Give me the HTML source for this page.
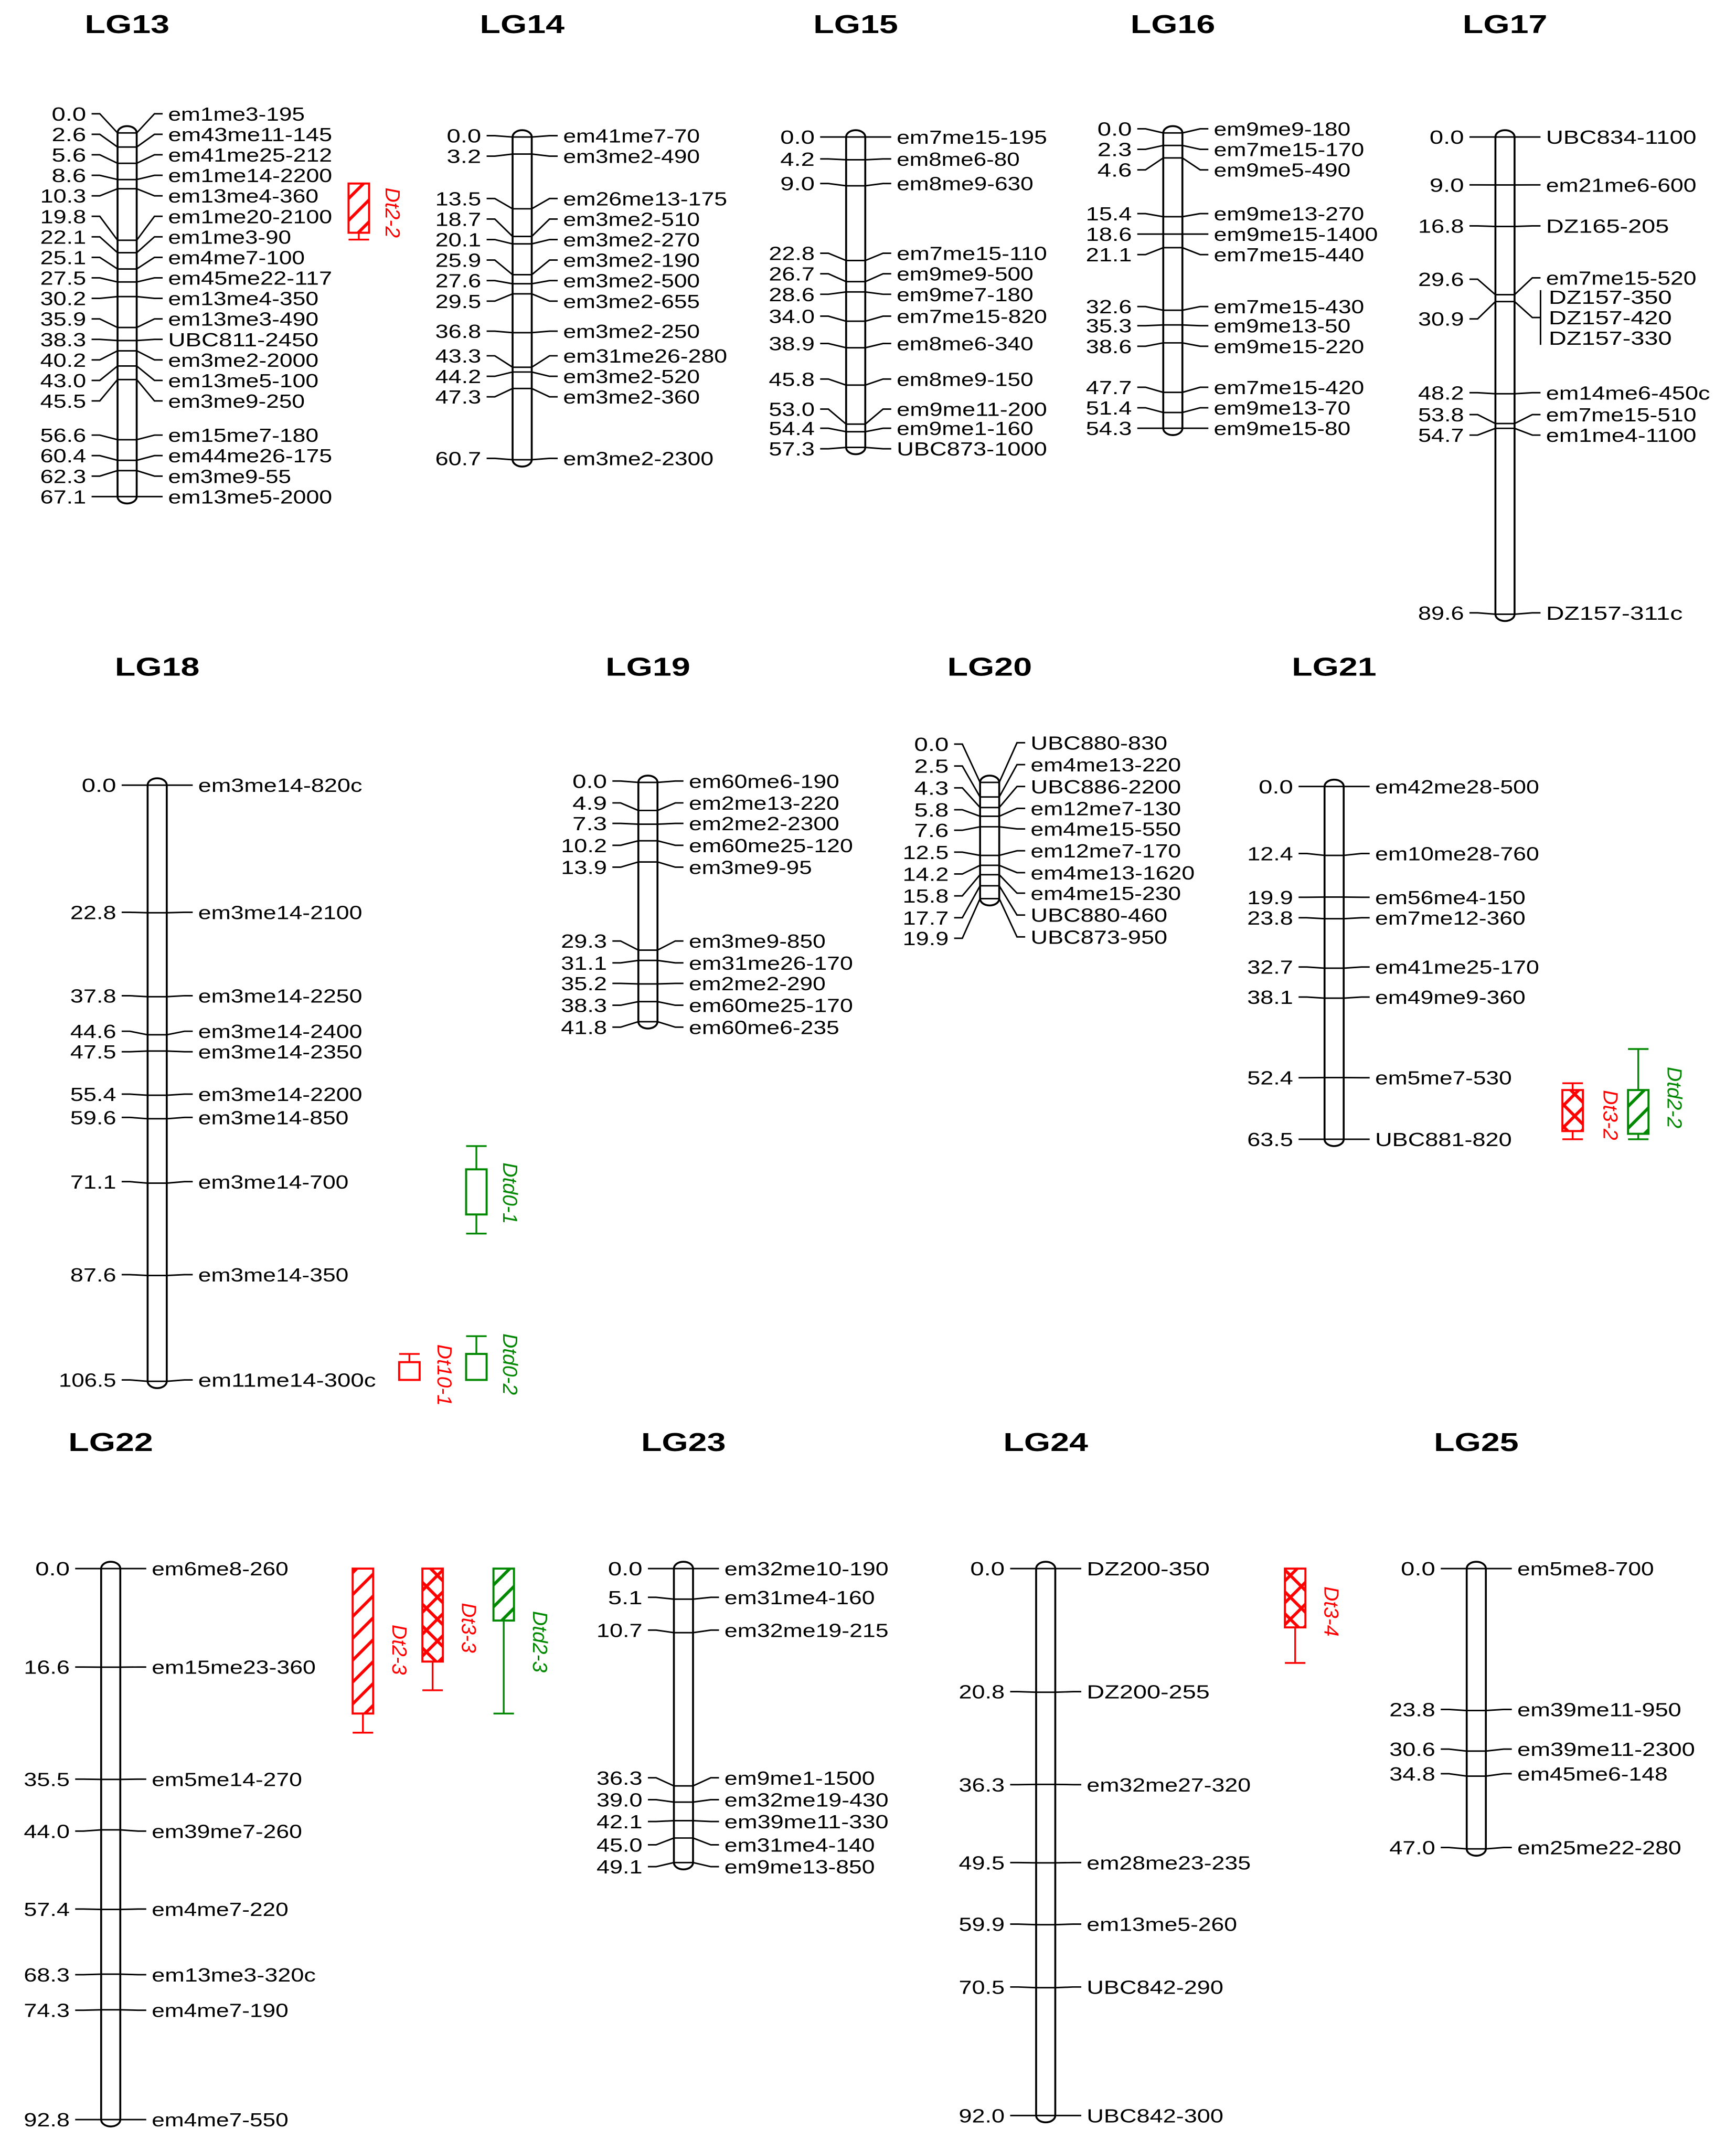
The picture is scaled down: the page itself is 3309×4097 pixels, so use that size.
<!DOCTYPE html>
<html><head><meta charset="utf-8">
<style>html,body{margin:0;padding:0;background:#fff}svg{display:block}</style>
</head><body>
<svg id="s" xmlns="http://www.w3.org/2000/svg" width="3309" height="4097" viewBox="0 0 1270 1572">
<defs>
<pattern id="hr" patternUnits="userSpaceOnUse" width="16" height="16"><path d="M-4,20 L20,-4 M-4,4 L4,-4 M12,20 L20,12" stroke="#f00" stroke-width="2.2"/></pattern>
<pattern id="hg" patternUnits="userSpaceOnUse" width="16" height="16"><path d="M-4,20 L20,-4 M-4,4 L4,-4 M12,20 L20,12" stroke="#080" stroke-width="2.2"/></pattern>
<pattern id="xr" patternUnits="userSpaceOnUse" width="16" height="16"><path d="M0,0 L16,16 M16,0 L0,16" stroke="#f00" stroke-width="2.2"/></pattern>
</defs>
<g id="g" font-family="'Liberation Sans', Arial, sans-serif" font-size="14" fill="#000"></g>
</svg>
<script>
var NS="http://www.w3.org/2000/svg",G=document.getElementById('g');
function el(t,a,txt){var e=document.createElementNS(NS,t);for(var k in a)e.setAttribute(k,a[k]);if(txt!=null)e.textContent=txt;G.appendChild(e);return e;}
function line(x1,y1,x2,y2,c,w){el('path',{d:'M'+x1+','+y1+' L'+x2+','+y2,stroke:c||'#000','stroke-width':w||1.1,fill:'none'});}
function pl(pts,c,w){el('polyline',{points:pts.map(function(p){return p.join(',')}).join(' '),stroke:c||'#000','stroke-width':w||1.1,fill:'none'});}
function chrom(o){
 var cx=o.cx,hw=7,top=o.top,bot=o.bot,max=o.max,sc=(bot-top)/max;
 el('text',{x:cx,y:o.ty||(top<200?24:(top<700?494:1061)),'text-anchor':'middle','font-weight':'bold','font-size':19,textLength:62,lengthAdjust:'spacingAndGlyphs'},o.title);
 el('rect',{x:cx-hw,y:top-5,width:2*hw,height:bot-top+10,rx:7,ry:5,fill:'#fff',stroke:'#000','stroke-width':1.4});
 o.m.forEach(function(m){
  var cy=top+m[0]*sc, ly=m[2], ry=(m[3]!=null?m[3]:ly);
  line(cx-hw,cy,cx+hw,cy);
  var L=cx-hw,R=cx+hw;
  pl([[L-19,ly],[L-13,ly],[L,cy]]);
  if(!m[4]) pl([[R,cy],[R+13,ry],[R+19,ry]]);
  var ns=m[0].toFixed(1);
  el('text',{x:L-23,y:ly+5,'text-anchor':'end',textLength:ns.length*8.4,lengthAdjust:'spacingAndGlyphs'},ns);
  if(m[1]) el('text',{x:R+23,y:ry+5,textLength:m[1].length*10,lengthAdjust:'spacingAndGlyphs'},m[1]);
 });
}
function qtl(o){
 var c=o.c,x=o.x,w=15;
 if(o.wt!=null){line(x+w/2,o.wt,x+w/2,o.y1,c,1.3);line(x,o.wt,x+w,o.wt,c,1.3);}
 if(o.wb!=null){line(x+w/2,o.y2,x+w/2,o.wb,c,1.3);line(x,o.wb,x+w,o.wb,c,1.3);}
 el('rect',{x:x,y:o.y1,width:w,height:o.y2-o.y1,fill:o.f||'#fff',stroke:c,'stroke-width':1.5});
 el('text',{x:0,y:0,fill:c,'font-style':'italic','font-size':15,transform:'translate('+(o.lx)+','+o.ly+') rotate(90)'},o.t);
}
chrom({title:'LG13',cx:93,top:97,bot:363,max:67.1,m:[
[0,'em1me3-195',83],[2.6,'em43me11-145',98],[5.6,'em41me25-212',113],[8.6,'em1me14-2200',128],[10.3,'em13me4-360',143],
[19.8,'em1me20-2100',158],[22.1,'em1me3-90',173],[25.1,'em4me7-100',188],[27.5,'em45me22-117',203],[30.2,'em13me4-350',218],
[35.9,'em13me3-490',233],[38.3,'UBC811-2450',248],[40.2,'em3me2-2000',263],[43.0,'em13me5-100',278],[45.5,'em3me9-250',293],
[56.6,'em15me7-180',318],[60.4,'em44me26-175',333],[62.3,'em3me9-55',348],[67.1,'em13me5-2000',363]]});
chrom({title:'LG14',cx:382,top:100,bot:336,max:60.7,m:[
[0,'em41me7-70',99],[3.2,'em3me2-490',114],[13.5,'em26me13-175',145],[18.7,'em3me2-510',160],[20.1,'em3me2-270',175],
[25.9,'em3me2-190',190],[27.6,'em3me2-500',205],[29.5,'em3me2-655',220],[36.8,'em3me2-250',242],[43.3,'em31me26-280',260],
[44.2,'em3me2-520',275],[47.3,'em3me2-360',290],[60.7,'em3me2-2300',335]]});
chrom({title:'LG15',cx:626,top:100,bot:327,max:57.3,m:[
[0,'em7me15-195',100],[4.2,'em8me6-80',116],[9.0,'em8me9-630',134],[22.8,'em7me15-110',185],[26.7,'em9me9-500',200],
[28.6,'em9me7-180',215],[34.0,'em7me15-820',231],[38.9,'em8me6-340',251],[45.8,'em8me9-150',277],[53.0,'em9me11-200',299],
[54.4,'em9me1-160',313],[57.3,'UBC873-1000',328]]});
chrom({title:'LG16',cx:858,top:97,bot:313,max:54.3,m:[
[0,'em9me9-180',94],[2.3,'em7me15-170',109],[4.6,'em9me5-490',124],[15.4,'em9me13-270',156],[18.6,'em9me15-1400',171],
[21.1,'em7me15-440',186],[32.6,'em7me15-430',224],[35.3,'em9me13-50',238],[38.6,'em9me15-220',253],[47.7,'em7me15-420',283],
[51.4,'em9me13-70',298],[54.3,'em9me15-80',313]]});
chrom({title:'LG17',cx:1101,top:100,bot:449,max:89.6,m:[
[0,'UBC834-1100',100],[9.0,'em21me6-600',135],[16.8,'DZ165-205',165],[29.6,'em7me15-520',204,203],[30.9,null,233,null,1],
[48.2,'em14me6-450c',287],[53.8,'em7me15-510',303],[54.7,'em1me4-1100',318],[89.6,'DZ157-311c',448]]});
(function(){var cy=100+30.9*(349/89.6);pl([[1108,cy],[1121,232],[1127,232]]);line(1127,212,1127,252);
['DZ157-350','DZ157-420','DZ157-330'].forEach(function(n,i){el('text',{x:1133,y:222+i*15,textLength:n.length*10,lengthAdjust:'spacingAndGlyphs'},n);});})();
qtl({c:'#f00',x:255,y1:134,y2:170,wb:175,f:'url(#hr)',t:'Dt2-2',lx:282,ly:137});

chrom({title:'LG18',cx:115,top:574,bot:1010,max:106.5,m:[
[0,'em3me14-820c',574],[22.8,'em3me14-2100',667],[37.8,'em3me14-2250',728],[44.6,'em3me14-2400',754],[47.5,'em3me14-2350',769],
[55.4,'em3me14-2200',800],[59.6,'em3me14-850',817],[71.1,'em3me14-700',864],[87.6,'em3me14-350',932],[106.5,'em11me14-300c',1009]]});
qtl({c:'#080',x:341,y1:855,y2:888,wt:838,wb:902,t:'Dtd0-1',lx:368,ly:850});
qtl({c:'#f00',x:292,y1:996,y2:1009,wt:990,t:'Dt10-1',lx:320,ly:983});
qtl({c:'#080',x:341,y1:990,y2:1009,wt:977,t:'Dtd0-2',lx:368,ly:975});
chrom({title:'LG19',cx:474,top:572,bot:747,max:41.8,m:[
[0,'em60me6-190',571],[4.9,'em2me13-220',587],[7.3,'em2me2-2300',602],[10.2,'em60me25-120',618],[13.9,'em3me9-95',634],
[29.3,'em3me9-850',688],[31.1,'em31me26-170',704],[35.2,'em2me2-290',719],[38.3,'em60me25-170',735],[41.8,'em60me6-235',751]]});
chrom({title:'LG20',cx:724,top:572,bot:657,max:19.9,m:[
[0,'UBC880-830',544,543],[2.5,'em4me13-220',560,559],[4.3,'UBC886-2200',576,575],[5.8,'em12me7-130',592,591],[7.6,'em4me15-550',607,606],
[12.5,'em12me7-170',623,622],[14.2,'em4me13-1620',639,638],[15.8,'em4me15-230',655,653],[17.7,'UBC880-460',671,669],[19.9,'UBC873-950',686,685]]});
chrom({title:'LG21',cx:976,top:575,bot:833,max:63.5,m:[
[0,'em42me28-500',575],[12.4,'em10me28-760',624],[19.9,'em56me4-150',656],[23.8,'em7me12-360',671],[32.7,'em41me25-170',707],
[38.1,'em49me9-360',729],[52.4,'em5me7-530',788],[63.5,'UBC881-820',833]]});
qtl({c:'#f00',x:1143,y1:797,y2:827,wt:792,wb:833,f:'url(#xr)',t:'Dt3-2',lx:1173,ly:797});
qtl({c:'#080',x:1191,y1:797,y2:829,wt:767,wb:833,f:'url(#hg)',t:'Dtd2-2',lx:1220,ly:780});

chrom({title:'LG22',cx:81,top:1147,bot:1550,max:92.8,m:[
[0,'em6me8-260',1147],[16.6,'em15me23-360',1219],[35.5,'em5me14-270',1301],[44.0,'em39me7-260',1339],[57.4,'em4me7-220',1396],
[68.3,'em13me3-320c',1444],[74.3,'em4me7-190',1470],[92.8,'em4me7-550',1550]]});
qtl({c:'#f00',x:258,y1:1147,y2:1253,wb:1267,f:'url(#hr)',t:'Dt2-3',lx:287,ly:1188});
qtl({c:'#f00',x:309,y1:1147,y2:1215,wb:1236,f:'url(#xr)',t:'Dt3-3',lx:338,ly:1172});
qtl({c:'#080',x:361,y1:1147,y2:1185,wb:1253,f:'url(#hg)',t:'Dtd2-3',lx:390,ly:1178});
chrom({title:'LG23',cx:500,top:1147,bot:1362,max:49.1,m:[
[0,'em32me10-190',1147],[5.1,'em31me4-160',1168],[10.7,'em32me19-215',1192],[36.3,'em9me1-1500',1300],[39.0,'em32me19-430',1316],
[42.1,'em39me11-330',1332],[45.0,'em31me4-140',1349],[49.1,'em9me13-850',1365]]});
chrom({title:'LG24',cx:765,top:1147,bot:1547,max:92.0,m:[
[0,'DZ200-350',1147],[20.8,'DZ200-255',1237],[36.3,'em32me27-320',1305],[49.5,'em28me23-235',1362],[59.9,'em13me5-260',1407],
[70.5,'UBC842-290',1453],[92.0,'UBC842-300',1547]]});
qtl({c:'#f00',x:940,y1:1147,y2:1190,wb:1216,f:'url(#xr)',t:'Dt3-4',lx:969,ly:1160});
chrom({title:'LG25',cx:1080,top:1147,bot:1352,max:47.0,m:[
[0,'em5me8-700',1147],[23.8,'em39me11-950',1250],[30.6,'em39me11-2300',1279],[34.8,'em45me6-148',1297],[47.0,'em25me22-280',1351]]});
</script>
</body></html>
